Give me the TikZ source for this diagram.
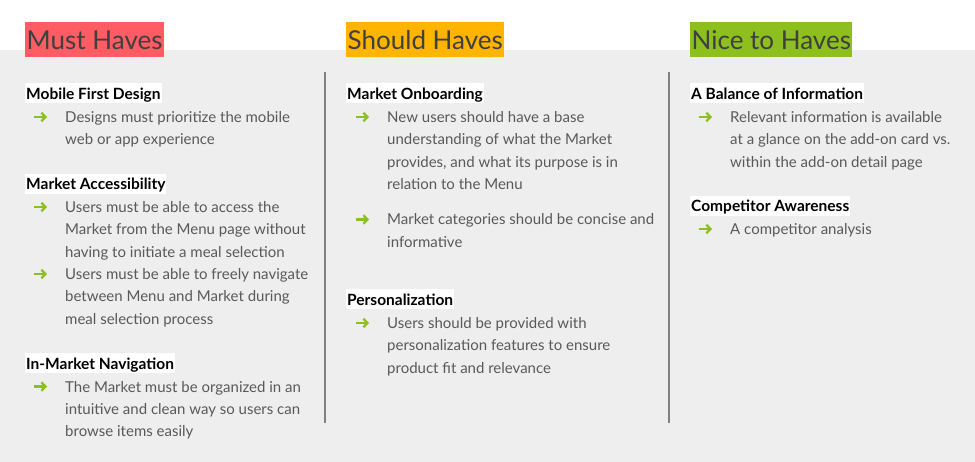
\documentclass[tikz,border=0pt]{standalone}
\usepackage{fontspec}
\setmainfont{Lato}
\usetikzlibrary{arrows.meta}
\definecolor{mustred}{HTML}{FF5C63}
\definecolor{shouldorange}{HTML}{FFB400}
\definecolor{nicegreen}{HTML}{8DC01F}
\definecolor{titlegray}{HTML}{3F3F3F}
\definecolor{bodygray}{HTML}{595959}
\definecolor{panelgray}{HTML}{EEEEEE}
\definecolor{rulegray}{HTML}{808080}

\begin{document}
\begin{tikzpicture}[x=1pt,y=-1pt,
  title/.style={anchor=base west,inner xsep=1.5pt,inner ysep=0pt,text height=28pt,text depth=7pt,text=titlegray,font=\fontsize{26}{30}\selectfont},
  head/.style={anchor=base west,fill=white,inner xsep=1pt,inner ysep=0pt,text height=16pt,text depth=4pt,font=\fontsize{15.5}{22.4}\selectfont\bfseries},
  item/.style={anchor=base west,align=left,inner sep=0pt,text=bodygray,font=\fontsize{15}{22.4}\selectfont},
  bullet/.style={draw=nicegreen,line width=2.3pt,-{Straight Barb[length=4pt,width=8.5pt]}}]
\useasboundingbox (0,0) rectangle (975,462);
\fill[panelgray] (0,50) rectangle (975,462);
\draw[rulegray,line width=1.5pt] (325,72) -- (325,423);
\draw[rulegray,line width=1.5pt] (669,72) -- (669,423);
\node[title,fill=mustred] (must) at (25,50) {Must Haves};
\node[title,fill=shouldorange] (should) at (346,50) {Should Haves};
\node[title,fill=nicegreen] (nice) at (690,50) {Nice to Haves};
\node[head] (mobile) at (25,99.5) {Mobile First Design};
\draw[bullet] (34,117) -- (47,117);
\node[item] (mobile1) at (65,145) {Designs must prioritize the mobile\\web or app experience};
\node[head] (access) at (25,190) {Market Accessibility};
\draw[bullet] (34,207) -- (47,207);
\node[item] (access1) at (65,257.3) {Users must be able to access the\\Market from the Menu page without\\having to initiate a meal selection};
\draw[bullet] (34,274) -- (47,274);
\node[item] (access2) at (65,324.3) {Users must be able to freely navigate\\between Menu and Market during\\meal selection process};
\node[head] (navig) at (25,369.5) {In-Market Navigation};
\draw[bullet] (34,386.5) -- (47,386.5);
\node[item] (navig1) at (65,436.8) {The Market must be organized in an\\intuitive and clean way so users can\\browse items easily};
\node[head] (onboard) at (346,99.5) {Market Onboarding};
\draw[bullet] (356,117) -- (369,117);
\node[item] (onboard1) at (387,189.7) {New users should have a base\\understanding of what the Market\\provides, and what its purpose is in\\relation to the Menu};
\draw[bullet] (356,219.5) -- (369,219.5);
\node[item] (onboard2) at (387,247.4) {Market categories should be concise and\\informative};
\node[head] (person) at (346,305.5) {Personalization};
\draw[bullet] (356,323) -- (369,323);
\node[item] (person1) at (387,373.3) {Users should be provided with\\personalization features to ensure\\product fit and relevance};
\node[head] (balance) at (690,99.5) {A Balance of Information};
\draw[bullet] (699,117) -- (712,117);
\node[item] (balance1) at (730,167.3) {Relevant information is available\\at a glance on the add-on card vs.\\within the add-on detail page};
\node[head] (compet) at (690,212) {Competitor Awareness};
\draw[bullet] (699,229) -- (712,229);
\node[item] (compet1) at (730,234.5) {A competitor analysis};
\end{tikzpicture}
\end{document}
